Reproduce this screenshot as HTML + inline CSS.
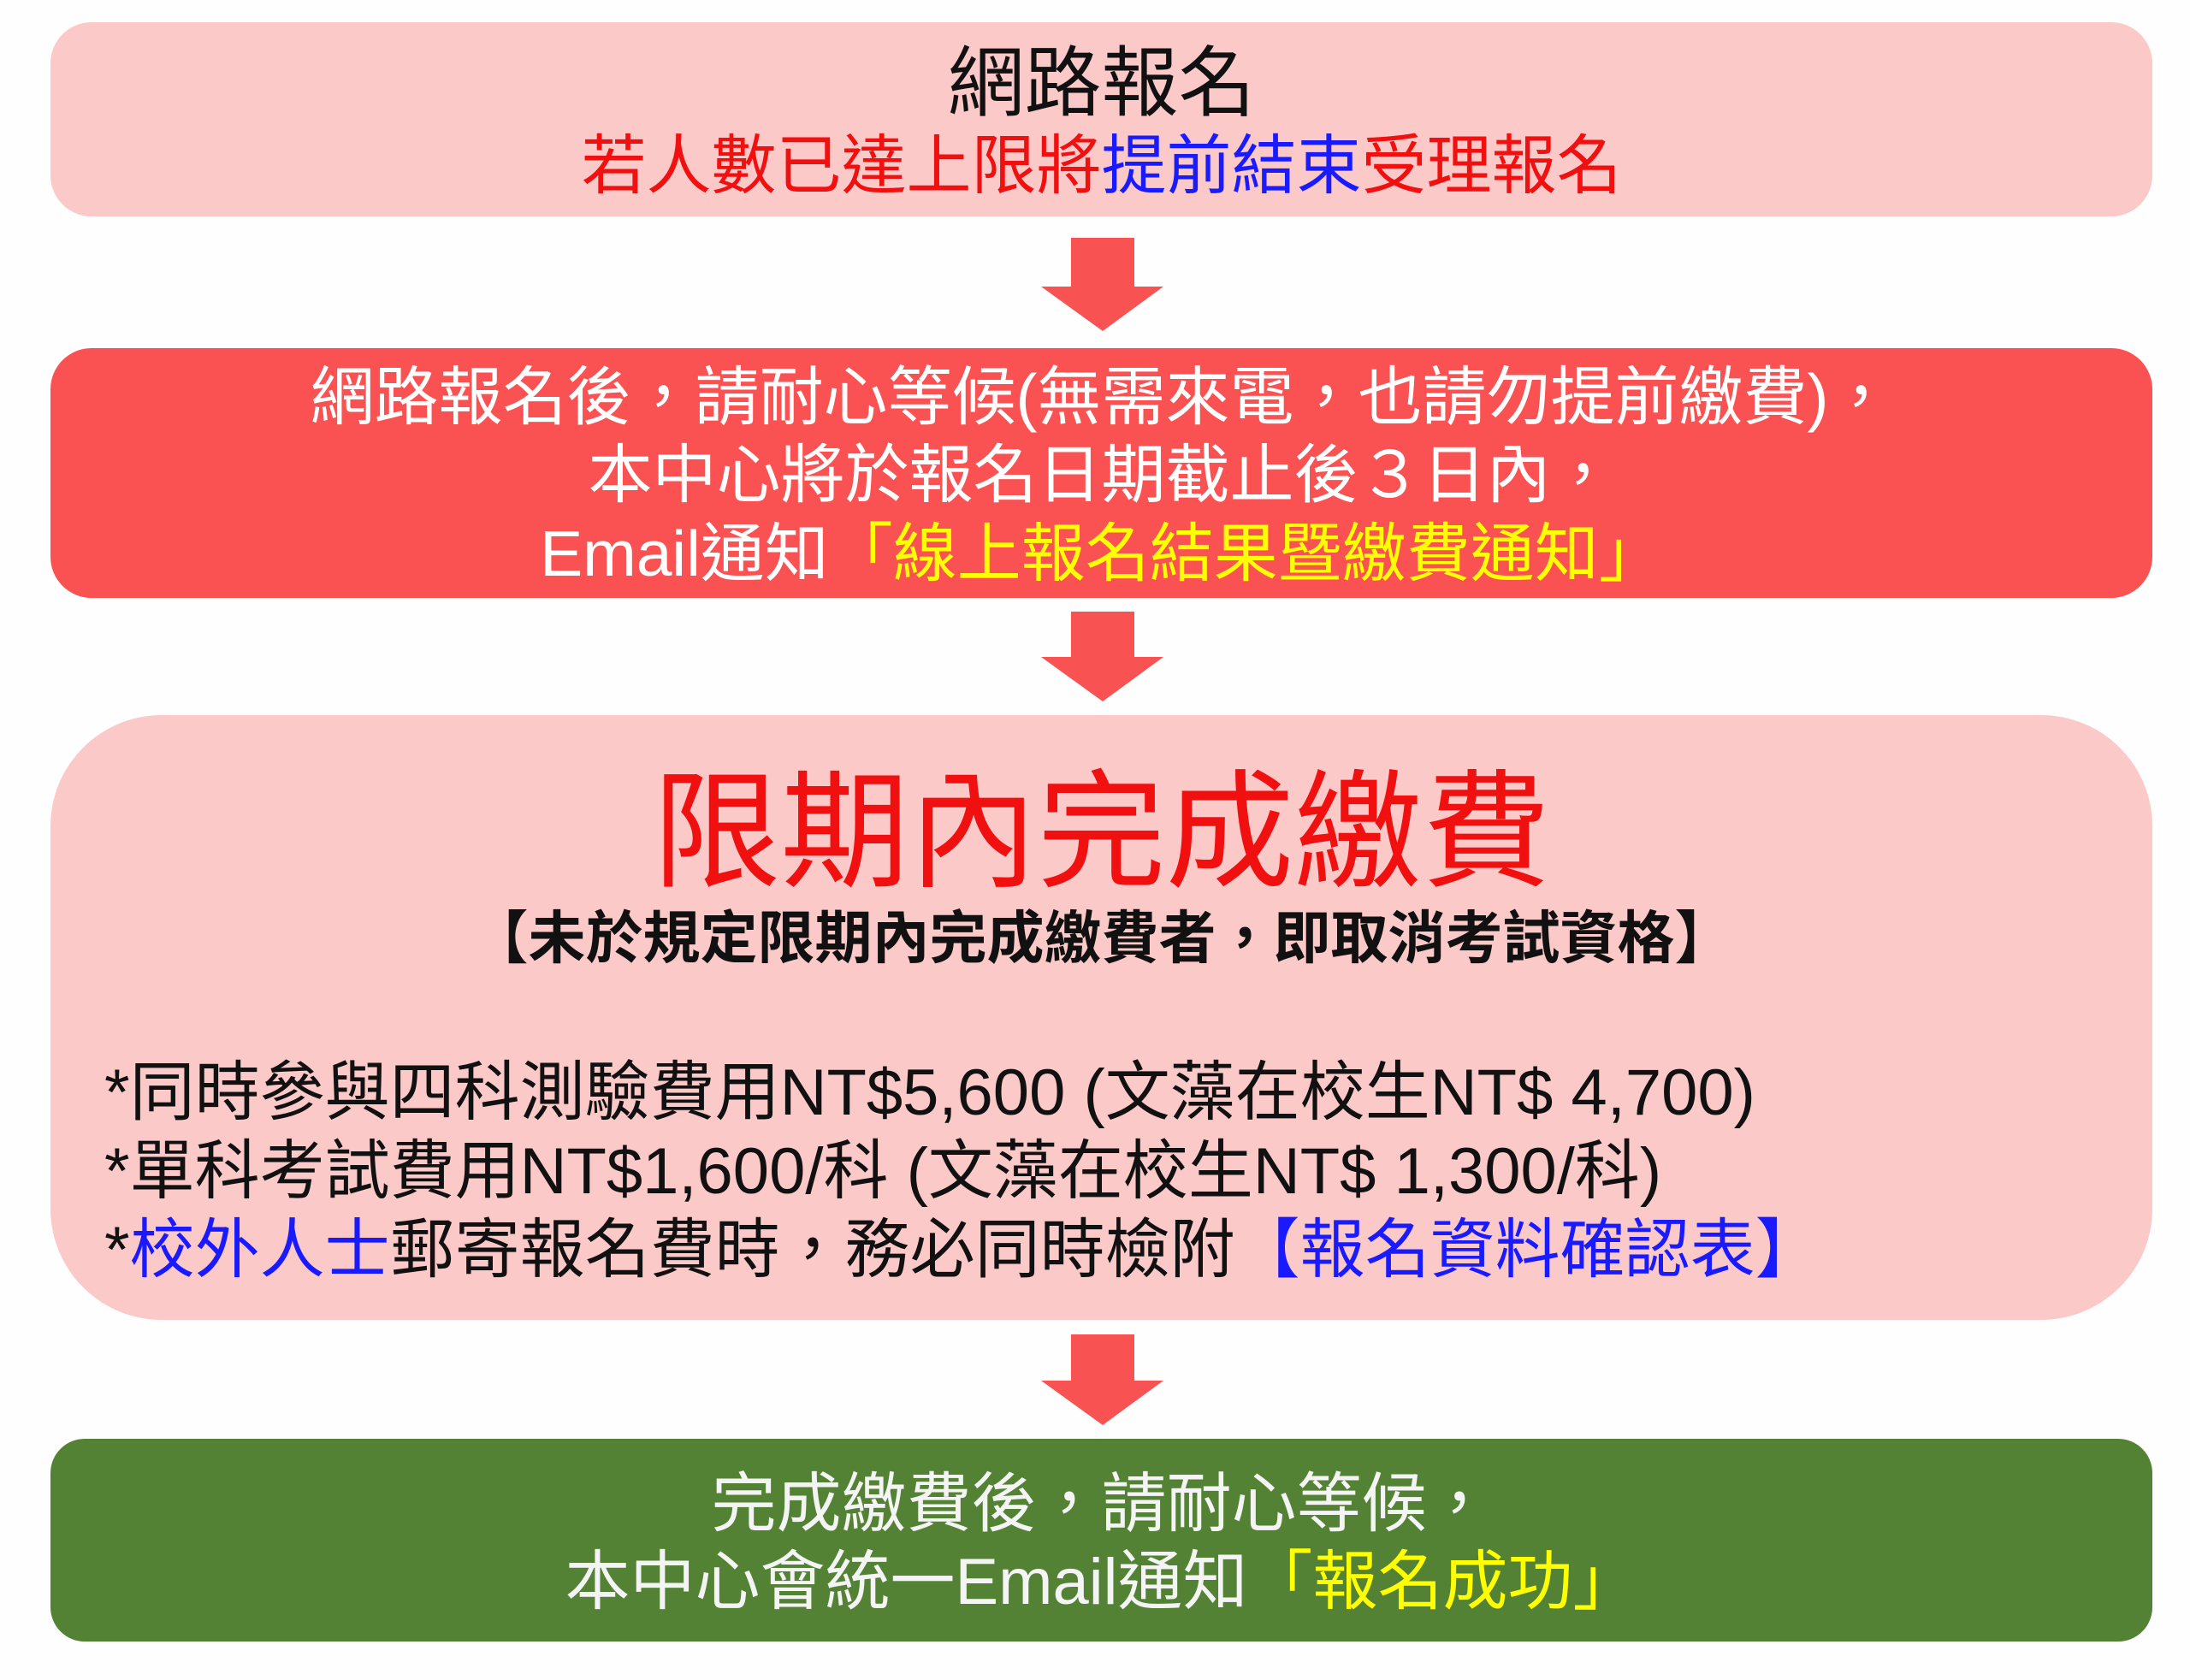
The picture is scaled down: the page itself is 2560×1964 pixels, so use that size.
<!DOCTYPE html>
<html><head><meta charset="utf-8"><style>
html,body{margin:0;padding:0;background:#fefefe;}
body{width:2560px;height:1964px;position:relative;overflow:hidden;font-family:"Liberation Sans","Noto Sans CJK TC",sans-serif;}
.box{position:absolute;left:59px;width:2457px;}
.c{position:absolute;left:0;right:0;text-align:center;white-space:nowrap;}
.arrow{position:absolute;left:0;}
.r{color:#f01010}.b{color:#1a1aff}.y{color:#ffff00}
</style></head><body>

<div class="box" style="top:26px;height:227px;background:#fcc9c9;border-radius:48px;">
  <div class="c" style="top:22px;font-size:90px;line-height:100px;color:#111;">網路報名</div>
  <div class="c" style="top:124px;font-size:76px;line-height:90px;"><span class="r">若人數已達上限將</span><span class="b">提前結束</span><span class="r">受理報名</span></div>
</div>

<svg class="arrow" width="2560" height="1964" style="top:0;position:absolute;">
  <g fill="#f95252">
    <polygon points="1252,278 1326,278 1326,335 1360,335 1289,387 1217,335 1252,335"/>
    <polygon points="1252,715 1326,715 1326,768 1360,768 1289,820 1217,768 1252,768"/>
    <polygon points="1252,1560 1326,1560 1326,1614 1360,1614 1289,1666 1217,1614 1252,1614"/>
  </g>
</svg>

<div class="box" style="top:407px;height:292px;background:#fa5252;border-radius:48px;color:#fff;">
  <div class="c" style="top:12px;font-size:75px;line-height:90px;">網路報名後，請耐心等候(無需來電，也請勿提前繳費)，</div>
  <div class="c" style="top:103px;font-size:75px;line-height:90px;">本中心將於報名日期截止後３日內，</div>
  <div class="c" style="top:195px;font-size:75px;line-height:90px;">Email通知<span class="y">「線上報名結果暨繳費通知」</span></div>
</div>

<div class="box" style="top:836px;height:707px;background:#fcc9c9;border-radius:130px;">
  <div class="c" style="top:52px;font-size:150px;line-height:170px;color:#f01010;">限期內完成繳費</div>
  <div class="c" style="top:222px;font-size:67px;line-height:80px;font-weight:bold;color:#111;">【未於規定限期內完成繳費者，即取消考試資格】</div>
  <div style="position:absolute;left:63px;top:396px;font-size:76px;line-height:92px;color:#111;white-space:nowrap;">
    <div>*同時參與四科測驗費用NT$5,600 (文藻在校生NT$ 4,700)</div>
    <div>*單科考試費用NT$1,600/科 (文藻在校生NT$ 1,300/科)</div>
    <div>*<span class="b">校外人士</span>郵寄報名費時，務必同時檢附<span class="b">【報名資料確認表】</span></div>
  </div>
</div>

<div class="box" style="top:1682px;height:237px;background:#548235;border-radius:40px;color:#f4f4f4;">
  <div class="c" style="top:32px;font-size:76px;line-height:90px;">完成繳費後，請耐心等候，</div>
  <div class="c" style="top:123px;font-size:76px;line-height:90px;">本中心會統一Email通知<span class="y">「報名成功」</span></div>
</div>

</body></html>
